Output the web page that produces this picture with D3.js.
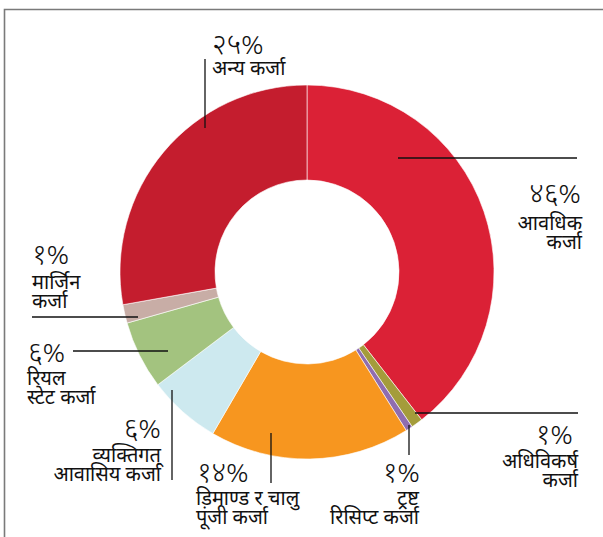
<!DOCTYPE html>
<html>
<head>
<meta charset="utf-8">
<script src="https://cdn.jsdelivr.net/npm/d3@7"></script>
<style>
  html, body { margin: 0; padding: 0; background: #fff; }
  svg { display: block; }
  .lbl { font-family: "Noto Sans Devanagari", "Lohit Devanagari", "Mukta", "FreeSans", "Noto Sans", sans-serif; fill: #111; }
</style>
</head>
<body>
<script>
// ---- data ----
const categories = ["आवधिक कर्जा", "अधिविकर्ष कर्जा", "ट्रष्ट रिसिप्ट कर्जा", "डिमाण्ड र चालु पूंजी कर्जा",
                    "व्यक्तिगत् आवासिय कर्जा", "रियल स्टेट कर्जा", "मार्जिन कर्जा", "अन्य कर्जा"];
const shares = [39.5, 1.0, 0.6, 17.3, 6.3, 5.9, 1.6, 27.8];
const pctLabels = ["४६%", "१%", "१%", "१४%", "६%", "६%", "१%", "२५%"];
const nameLines = [["आवधिक", "कर्जा"], ["अधिविकर्ष", "कर्जा"], ["ट्रष्ट", "रिसिप्ट कर्जा"], ["डिमाण्ड र चालु", "पूंजी कर्जा"],
                   ["व्यक्तिगत्", "आवासिय कर्जा"], ["रियल", "स्टेट कर्जा"], ["मार्जिन", "कर्जा"], ["अन्य कर्जा"]];
const colors = ["#db2136", "#a49c3b", "#8f6db0", "#f7961f", "#cde9ef", "#a3c37f", "#c8ada6", "#c41d2e"];

// ---- layout ----
const W = 603, H = 537;
const cx = 307, cy = 272, R = 187, r = 92;

const layout = [
  { px: 581, py: 203, a: "end",   nx: 582, ny: 230, line: [398, 158, 577, 158] },
  { px: 573, py: 444, a: "end",   nx: 578, ny: 468, line: [415, 413, 578, 413] },
  { px: 420, py: 482, a: "end",   nx: 419, ny: 505, line: [409, 425, 409, 455] },
  { px: 197, py: 482, a: "start", nx: 196, ny: 505, line: [271, 433, 271, 483] },
  { px: 161, py: 438, a: "end",   nx: 161, ny: 462, line: [172, 390, 172, 480] },
  { px: 28,  py: 362, a: "start", nx: 27,  ny: 385, line: [73, 351, 168, 351] },
  { px: 32,  py: 264, a: "start", nx: 32,  ny: 289, line: [32, 317, 138, 317] },
  { px: 212, py: 54,  a: "start", nx: 212, ny: 75,  line: [205, 59, 205, 128] }
];

const svg = d3.select("body").append("svg").attr("width", W).attr("height", H);

svg.append("path")
  .attr("d", `M4.5,${H} V9.5 H${W}`)
  .attr("fill", "none").attr("stroke", "#7a7a7a").attr("stroke-width", 1.6);

const pie = d3.pie().sort(null).value(d => d).startAngle(0).endAngle(2 * Math.PI);
const arc = d3.arc().innerRadius(r).outerRadius(R);

svg.append("g").attr("transform", `translate(${cx},${cy})`)
  .selectAll("path").data(pie(shares)).join("path")
  .attr("d", arc)
  .attr("fill", (d, i) => colors[i])
  .attr("stroke", "#fff").attr("stroke-width", 0.6);

const ann = svg.append("g");
layout.forEach((L, i) => {
  ann.append("line")
    .attr("x1", L.line[0]).attr("y1", L.line[1]).attr("x2", L.line[2]).attr("y2", L.line[3])
    .attr("stroke", "#111").attr("stroke-width", 1.3);
  ann.append("text").attr("class", "lbl")
    .attr("x", L.px).attr("y", L.py).attr("text-anchor", L.a)
    .attr("font-size", 28).attr("font-weight", 300).text(pctLabels[i]);
  const t = ann.append("text").attr("class", "lbl")
    .attr("x", L.nx).attr("y", L.ny).attr("text-anchor", L.a)
    .attr("font-size", 20);
  nameLines[i].forEach((s, k) => {
    t.append("tspan").attr("x", L.nx).attr("dy", k === 0 ? 0 : 19).text(s);
  });
});
</script>
</body>
</html>
